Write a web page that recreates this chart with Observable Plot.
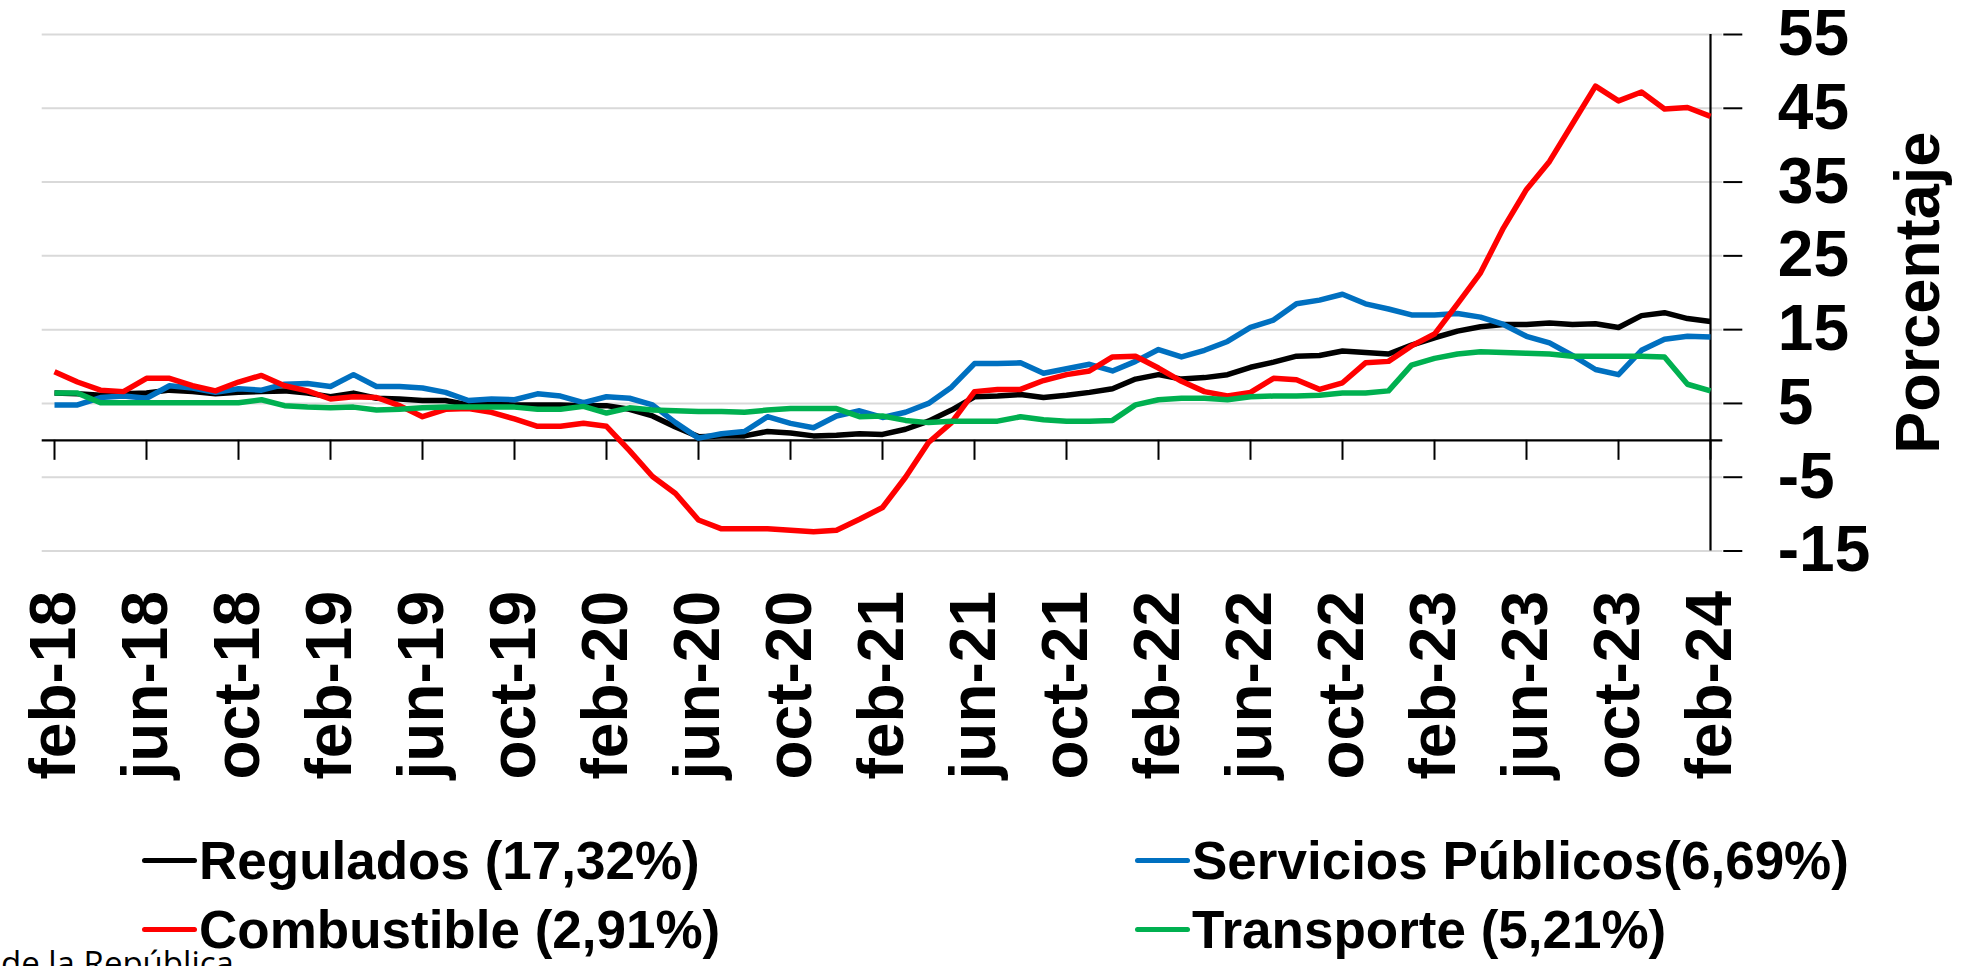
<!DOCTYPE html>
<html>
<head>
<meta charset="utf-8">
<script src="https://cdn.jsdelivr.net/npm/d3@7"></script>
<script src="https://cdn.jsdelivr.net/npm/@observablehq/plot@0.6"></script>
<style>
html, body { margin: 0; padding: 0; background: #fff; width: 1980px; height: 966px; overflow: hidden; }
#wrap { position: relative; width: 1980px; height: 966px; }
#chart { position: absolute; left: 0; top: 0; }
.leg { position: absolute; display: flex; align-items: center; font-family: "Liberation Sans", Arial, sans-serif; font-weight: bold; font-size: 53px; line-height: 53px; height: 53px; color: #000; white-space: nowrap; }
.sw { display: inline-block; width: 55px; height: 5px; border-radius: 3px; margin-right: 2px; }
#caption { position: absolute; left: 1px; top: 946px; font-family: "Open Sans", "Noto Sans", sans-serif; font-size: 33px; line-height: 33px; color: #000; white-space: nowrap; }
</style>
</head>
<body>
<div id="wrap">
  <div id="chart"></div>
  <div id="legend"></div>
  <div id="caption">de la República</div>
</div>
<script>
// ---- categories (monthly, feb-18 .. feb-24) ----
const monthNames = ["ene","feb","mar","abr","may","jun","jul","ago","sep","oct","nov","dic"];
const months = [];
for (let i = 0; i < 73; i++) {
  const k = 1 + i;
  months.push(monthNames[k % 12] + "-" + (18 + Math.floor(k / 12)));
}

// ---- tick labels ----
const xTickLabels = ["feb-18","jun-18","oct-18","feb-19","jun-19","oct-19","feb-20","jun-20","oct-20",
  "feb-21","jun-21","oct-21","feb-22","jun-22","oct-22","feb-23","jun-23","oct-23","feb-24"];
const yTicks = [-15, -5, 5, 15, 25, 35, 45, 55];

// ---- series values (annual variation, %) ----
const regulados = [
  6.4, 6.3, 6.1, 6.3, 6.4, 6.8, 6.6, 6.3, 6.5, 6.6, 6.7, 6.4,
  5.9, 6.4, 5.7, 5.6, 5.4, 5.4, 4.8, 4.9, 4.8, 4.8, 4.8, 4.7,
  4.7, 4.2, 3.3, 1.8, 0.5, 0.6, 0.6, 1.2, 1.0, 0.6, 0.7, 0.9,
  0.8, 1.5, 2.6, 4.1, 5.9, 6.0, 6.2, 5.8, 6.1, 6.5, 7.0, 8.3,
  8.9, 8.3, 8.5, 8.9, 9.9, 10.6, 11.4, 11.5, 12.1, 11.9, 11.7, 12.9,
  13.9, 14.8, 15.4, 15.7, 15.7, 15.9, 15.7, 15.8, 15.3, 16.9, 17.3, 16.5,
  16.1
];
const combustible = [
  9.3, 7.9, 6.8, 6.6, 8.4, 8.4, 7.4, 6.7, 7.9, 8.8, 7.4, 6.7,
  5.6, 5.9, 5.8, 4.7, 3.2, 4.2, 4.3, 3.8, 2.9, 1.9, 1.9, 2.3,
  1.9, -1.4, -4.9, -7.2, -10.8, -12.0, -12.0, -12.0, -12.2, -12.4, -12.2, -10.7,
  -9.1, -5.0, -0.3, 2.4, 6.6, 6.9, 6.9, 8.1, 8.9, 9.4, 11.3, 11.4,
  9.8, 8.0, 6.6, 6.0, 6.5, 8.4, 8.2, 6.9, 7.8, 10.5, 10.7, 12.8,
  14.4, 18.5, 22.7, 28.8, 34.0, 37.8, 42.9, 48.0, 46.0, 47.2, 44.9, 45.1,
  43.9
];
const servicios = [
  4.8, 4.8, 5.8, 6.0, 5.7, 7.4, 7.1, 6.5, 7.0, 6.8, 7.6, 7.7,
  7.3, 8.9, 7.3, 7.3, 7.1, 6.5, 5.4, 5.6, 5.5, 6.3, 6.0, 5.1,
  5.9, 5.7, 4.8, 2.4, 0.3, 0.9, 1.2, 3.2, 2.3, 1.7, 3.3, 4.0,
  3.1, 3.8, 5.0, 7.2, 10.4, 10.4, 10.5, 9.1, 9.7, 10.3, 9.4, 10.7,
  12.3, 11.3, 12.2, 13.4, 15.3, 16.3, 18.5, 19.0, 19.8, 18.5, 17.8, 17.0,
  17.0, 17.2, 16.7, 15.7, 14.1, 13.2, 11.5, 9.6, 8.9, 12.2, 13.7, 14.1,
  14.0
];
const transporte = [
  6.4, 6.4, 5.1, 5.1, 5.1, 5.1, 5.1, 5.1, 5.1, 5.5, 4.7, 4.5,
  4.4, 4.5, 4.1, 4.2, 4.4, 4.5, 4.5, 4.5, 4.5, 4.2, 4.2, 4.6,
  3.7, 4.4, 4.1, 4.0, 3.9, 3.9, 3.8, 4.1, 4.3, 4.3, 4.3, 3.2,
  3.3, 2.7, 2.4, 2.6, 2.6, 2.6, 3.2, 2.8, 2.6, 2.6, 2.7, 4.8,
  5.5, 5.7, 5.7, 5.5, 5.9, 6.0, 6.0, 6.1, 6.4, 6.4, 6.7, 10.2,
  11.1, 11.7, 12.0, 11.9, 11.8, 11.7, 11.4, 11.4, 11.4, 11.4, 11.3, 7.6,
  6.7
];

const seriesNames = ["Regulados (17,32%)", "Servicios Públicos(6,69%)", "Combustible (2,91%)", "Transporte (5,21%)"];
const seriesColors = ["#000000", "#0070C0", "#FF0000", "#00B050"];
const seriesValues = [regulados, servicios, combustible, transporte];
const yLabel = "Porcentaje";

const rowsFor = (vals) => vals.map((v, i) => ({month: months[i], value: v}));

const font = "'Liberation Sans', Arial, Helvetica, sans-serif";

const lineMarks = [0, 1, 2, 3].map(k =>
  Plot.lineY(rowsFor(seriesValues[k]), {
    x: "month", y: "value", stroke: seriesColors[k], strokeWidth: 5.5,
    strokeLinejoin: "round", strokeLinecap: "butt"
  })
);

const chart = Plot.plot({
  width: 1980,
  height: 800,
  marginTop: 34,
  marginBottom: 249.5,
  marginLeft: 41.7,
  marginRight: 257.7,
  style: {fontFamily: font, background: "#fff", color: "#000", overflow: "visible"},
  x: {type: "point", domain: months, padding: 0, axis: null},
  y: {domain: [-15, 55], axis: null},
  marks: [
    Plot.gridY(yTicks, {stroke: "#d9d9d9", strokeOpacity: 1, strokeWidth: 2}),
    Plot.ruleY([0], {stroke: "#000", strokeWidth: 2.2}),
    Plot.ruleX(xTickLabels, {x: d => d, y1: d => 0, y2: d => 0, insetBottom: -20, stroke: "#000", strokeWidth: 2}),
    Plot.ruleX([months[months.length - 1]], {stroke: "#000", strokeWidth: 2.2}),
    Plot.axisY(yTicks, {anchor: "right", tickSize: 19, tickPadding: 36, tickFormat: d => String(d),
      fontSize: 64, fontWeight: "bold", strokeWidth: 2, stroke: "#000", fill: "#000", label: null}),
    Plot.axisX(xTickLabels, {anchor: "bottom", tickSize: 0, tickPadding: 40, tickRotate: -90,
      fontSize: 64, fontWeight: "bold", fill: "#000", label: null}),
    Plot.text([yLabel], {frameAnchor: "right", textAnchor: "middle", rotate: -90, dx: 196,
      fontSize: 63, fontWeight: "bold", fill: "#000"}),
    ...lineMarks
  ]
});
document.getElementById("chart").appendChild(chart);

// ---- legend (HTML, below the SVG) ----
const legendPos = [
  {left: 142, top: 834},   // Regulados
  {left: 1135, top: 834},  // Servicios Públicos
  {left: 142, top: 903},   // Combustible
  {left: 1135, top: 903}   // Transporte
];
const legend = document.getElementById("legend");
seriesNames.forEach((name, k) => {
  const item = document.createElement("div");
  item.className = "leg";
  item.style.left = legendPos[k].left + "px";
  item.style.top = legendPos[k].top + "px";
  const sw = document.createElement("span");
  sw.className = "sw";
  sw.style.background = seriesColors[k];
  const tx = document.createElement("span");
  tx.textContent = name;
  item.appendChild(sw);
  item.appendChild(tx);
  legend.appendChild(item);
});
</script>
</body>
</html>
